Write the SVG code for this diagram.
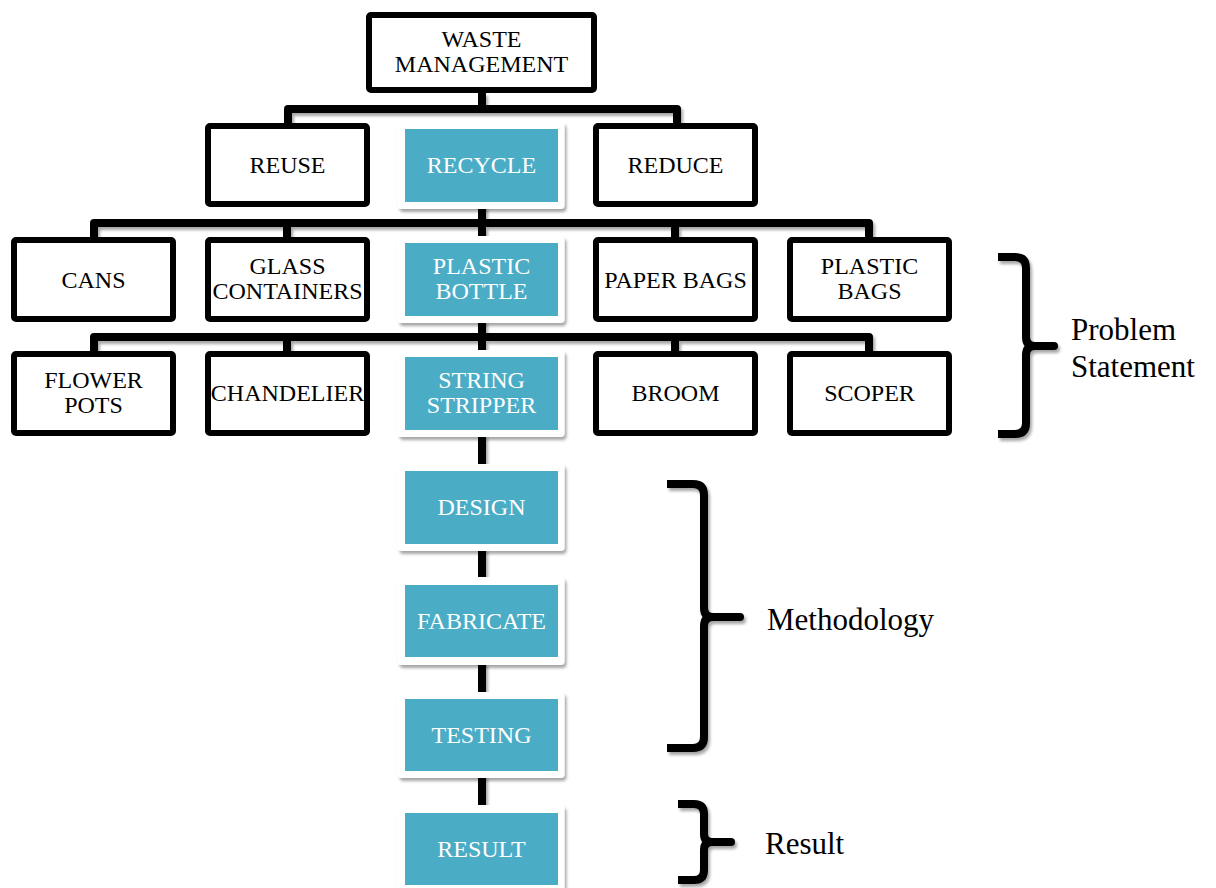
<svg xmlns="http://www.w3.org/2000/svg" width="1216" height="888" viewBox="0 0 1216 888">
<defs>
<filter id="sh" x="-20%" y="-20%" width="140%" height="150%">
<feDropShadow dx="2" dy="3" stdDeviation="1.6" flood-color="#000" flood-opacity="0.35"/>
</filter>
<filter id="sh2" x="-10%" y="-10%" width="130%" height="130%">
<feDropShadow dx="2" dy="3" stdDeviation="1.5" flood-color="#000" flood-opacity="0.35"/>
</filter>
</defs>
<style>
.bx{fill:#fff;stroke:#000;stroke-width:6}
.tw{fill:#fff;filter:url(#sh2)}
.ti{fill:#4BACC6}
.t{font-family:"Liberation Serif","Times New Roman",serif;font-size:24px;text-anchor:middle;fill:#000}
.tt{font-family:"Liberation Serif","Times New Roman",serif;font-size:24px;text-anchor:middle;fill:#fff}
.lb{font-family:"Liberation Serif","Times New Roman",serif;font-size:31px;fill:#000}
.cn{fill:none;stroke:#000;stroke-width:8;stroke-linejoin:round}
.br{fill:none;stroke:#000;stroke-width:8;stroke-linejoin:round}
</style>
<rect width="1216" height="888" fill="#fff"/>
<g id="connectors" filter="url(#sh)">
<path class="cn" d="M482 93V109M288 126V109H677V126"/>
<path class="cn" d="M94 240V223H869V240M287 240V223M675 240V223M482 205V240"/>
<path class="cn" d="M94 354V337H869V354M287 354V337M675 354V337M482 320V354"/>
<path class="cn" d="M482 435V467M482 548V580M482 662V695M482 775V808"/>
</g>
<g id="waste"><rect class="bx" x="369" y="15" width="225" height="75" rx="2"/><text class="t" x="481.5" y="47">WASTE</text><text class="t" x="481.5" y="72">MANAGEMENT</text></g>
<g id="reuse"><rect class="bx" x="208" y="126" width="159" height="78" rx="2"/><text class="t" x="287.5" y="173">REUSE</text></g>
<g id="recycle"><rect class="tw" x="397.5" y="122" width="167" height="87" rx="4"/><rect class="ti" x="405" y="129" width="153" height="73"/><text class="tt" x="481.5" y="173">RECYCLE</text></g>
<g id="reduce"><rect class="bx" x="596" y="126" width="159" height="78" rx="2"/><text class="t" x="675.5" y="173">REDUCE</text></g>
<g id="cans"><rect class="bx" x="14" y="240" width="159" height="79" rx="2"/><text class="t" x="93.5" y="287.5">CANS</text></g>
<g id="glass"><rect class="bx" x="208" y="240" width="159" height="79" rx="2"/><text class="t" x="287.5" y="274">GLASS</text><text class="t" x="287.5" y="299">CONTAINERS</text></g>
<g id="plasticbottle"><rect class="tw" x="397.5" y="236" width="167" height="87" rx="4"/><rect class="ti" x="405" y="243" width="153" height="73"/><text class="tt" x="481.5" y="274">PLASTIC</text><text class="tt" x="481.5" y="299">BOTTLE</text></g>
<g id="paperbags"><rect class="bx" x="596" y="240" width="159" height="79" rx="2"/><text class="t" x="675.5" y="287.5">PAPER BAGS</text></g>
<g id="plasticbags"><rect class="bx" x="790" y="240" width="159" height="79" rx="2"/><text class="t" x="869.5" y="274">PLASTIC</text><text class="t" x="869.5" y="299">BAGS</text></g>
<g id="flowerpots"><rect class="bx" x="14" y="354" width="159" height="79" rx="2"/><text class="t" x="93.5" y="388">FLOWER</text><text class="t" x="93.5" y="413">POTS</text></g>
<g id="chandelier"><rect class="bx" x="208" y="354" width="159" height="79" rx="2"/><text class="t" x="287.5" y="401">CHANDELIER</text></g>
<g id="stringstripper"><rect class="tw" x="397.5" y="350" width="167" height="87" rx="4"/><rect class="ti" x="405" y="357" width="153" height="73"/><text class="tt" x="481.5" y="388">STRING</text><text class="tt" x="481.5" y="413">STRIPPER</text></g>
<g id="broom"><rect class="bx" x="596" y="354" width="159" height="79" rx="2"/><text class="t" x="675.5" y="401">BROOM</text></g>
<g id="scoper"><rect class="bx" x="790" y="354" width="159" height="79" rx="2"/><text class="t" x="869.5" y="401">SCOPER</text></g>
<g id="design"><rect class="tw" x="397.5" y="464" width="167" height="87" rx="4"/><rect class="ti" x="405" y="471" width="153" height="73"/><text class="tt" x="481.5" y="515">DESIGN</text></g>
<g id="fabricate"><rect class="tw" x="397.5" y="577" width="167" height="88" rx="4"/><rect class="ti" x="405" y="585" width="153" height="72"/><text class="tt" x="481.5" y="629">FABRICATE</text></g>
<g id="testing"><rect class="tw" x="397.5" y="692" width="167" height="86" rx="4"/><rect class="ti" x="405" y="699" width="153" height="72"/><text class="tt" x="481.5" y="743">TESTING</text></g>
<g id="result"><rect class="tw" x="397.5" y="805" width="167" height="88" rx="4"/><rect class="ti" x="405" y="813" width="153" height="72"/><text class="tt" x="481.5" y="857">RESULT</text></g>
<g id="brace-problem" filter="url(#sh)">
<path class="br" d="M998 257H1015Q1026 257 1026 268V337Q1026 346 1035 346H1054M1035 346Q1026 346 1026 355V423Q1026 434 1015 434H998"/>
<circle cx="1054" cy="346" r="4"/>
</g>
<text class="lb" x="1071" y="340">Problem</text>
<text class="lb" x="1071" y="377">Statement</text>
<g id="brace-method" filter="url(#sh)">
<path class="br" d="M667 484H693Q704 484 704 495V608Q704 617 713 617H740M713 617Q704 617 704 626V737Q704 748 693 748H667"/>
<circle cx="740" cy="617" r="4"/>
</g>
<text class="lb" x="767" y="630">Methodology</text>
<g id="brace-result" filter="url(#sh)">
<path class="br" d="M678 804H694Q704 804 704 814V834Q704 842 712 842H731M712 842Q704 842 704 850V870Q704 880 694 880H678"/>
<circle cx="731" cy="842" r="4"/>
</g>
<text class="lb" x="765" y="854">Result</text>
</svg>
